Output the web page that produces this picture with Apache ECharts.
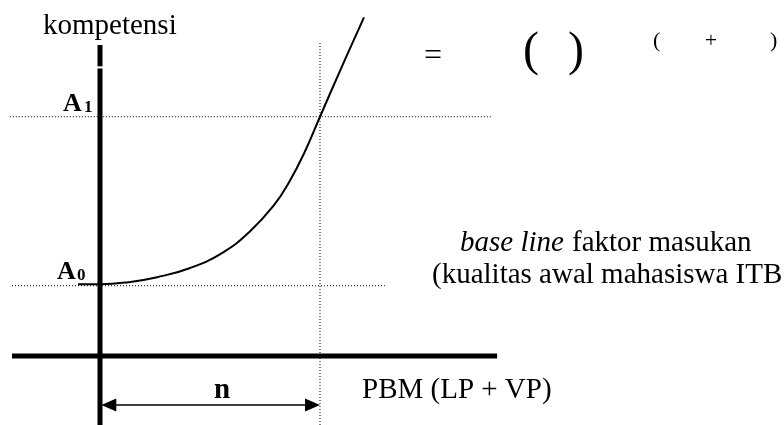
<!DOCTYPE html>
<html>
<head>
<meta charset="utf-8">
<script src="https://cdn.jsdelivr.net/npm/echarts@6/dist/echarts.min.js"></script>
<style>
  html, body { margin: 0; padding: 0; background: #fff; }
  #chart { width: 784px; height: 425px; }
</style>
</head>
<body>
<div id="chart"></div>
<script>
// data (x in units of n, y in units of A0)
const curveX = [-0.1, 0, 0.13, 0.26, 0.41, 0.56, 0.68, 0.79, 0.86, 0.93, 1.0, 1.1, 1.2];
const curveY = [1.01, 1.01, 1.04, 1.11, 1.24, 1.46, 1.75, 2.12, 2.45, 2.87, 3.37, 4.08, 4.77];
const levelA0 = 0.99;
const levelA1 = 3.37;
const n = 1;

// 1 unit of x = 220px, 1 unit of y = 71px, origin at (100, 356)
const xMin = -100 / 220, xMax = 684 / 220;
const yMin = -69 / 71, yMax = 356 / 71;

let mycharts = echarts.init(document.getElementById('chart'));

function seg(points, width, type) {
  return {
    type: 'line',
    data: points,
    symbol: 'none',
    silent: true,
    lineStyle: { color: '#000', width: width, type: type || 'solid' }
  };
}

const serif = '"Liberation Serif", "Times New Roman", serif';
function txt(text, x, y, size, extra) {
  return {
    type: 'text',
    x: x,
    y: y,
    silent: true,
    style: Object.assign({
      text: text,
      fontFamily: serif,
      fontSize: size,
      fill: '#000',
      verticalAlign: 'middle'
    }, extra || {})
  };
}

let curve = seg(curveX.map((x, i) => [x, curveY[i]]), 2);
curve.smooth = 0.45;

let baseAxis = seg([[-0.4, 0], [1.805, 0]], 5);
baseAxis.markLine = {
  silent: true,
  symbol: ['triangle', 'triangle'],
  symbolSize: [13, 15],
  label: { show: false },
  lineStyle: { color: '#000', width: 1.5, type: 'solid' },
  data: [[{ coord: [0.04, -0.69] }, { coord: [n - 0.034, -0.69] }]]
};

mycharts.setOption({
  animation: false,
  grid: { left: 0, right: 0, top: 0, bottom: 0 },
  xAxis: { type: 'value', min: xMin, max: xMax, show: false },
  yAxis: { type: 'value', min: yMin, max: yMax, show: false },
  series: [
    seg([[-0.41, levelA1], [1.785, levelA1]], 1, [1, 2]),
    seg([[-0.4, levelA0], [1.295, levelA0]], 1, [1, 2]),
    seg([[n, yMin], [n, 4.41]], 1, [1, 2]),
    baseAxis,
    seg([[0, yMin], [0, 4.05]], 5),
    seg([[0, 4.08], [0, 4.38]], 5),
    curve
  ],
  graphic: [
    txt('kompetensi', 43, 26, 29),
    txt('A', 63, 104, 26, { fontWeight: 'bold' }),
    txt('1', 84, 108, 17, { fontWeight: 'bold' }),
    txt('A', 57, 272, 26, { fontWeight: 'bold' }),
    txt('0', 77, 276, 17, { fontWeight: 'bold' }),
    txt('=', 433, 57, 32, { align: 'center' }),
    txt('(', 523, 52, 48),
    txt(')', 568, 52, 48),
    txt('(', 653, 41, 22),
    txt('+', 711, 41, 22, { align: 'center' }),
    txt(')', 770, 41, 22),
    txt('base line', 460, 243, 29, { fontStyle: 'italic' }),
    txt('faktor masukan', 572, 243, 29),
    txt('(kualitas awal mahasiswa ITB', 432, 275, 29),
    txt('n', 222, 391, 29, { fontWeight: 'bold', align: 'center' }),
    txt('PBM (LP + VP)', 362, 390, 29)
  ]
});
</script>
</body>
</html>
